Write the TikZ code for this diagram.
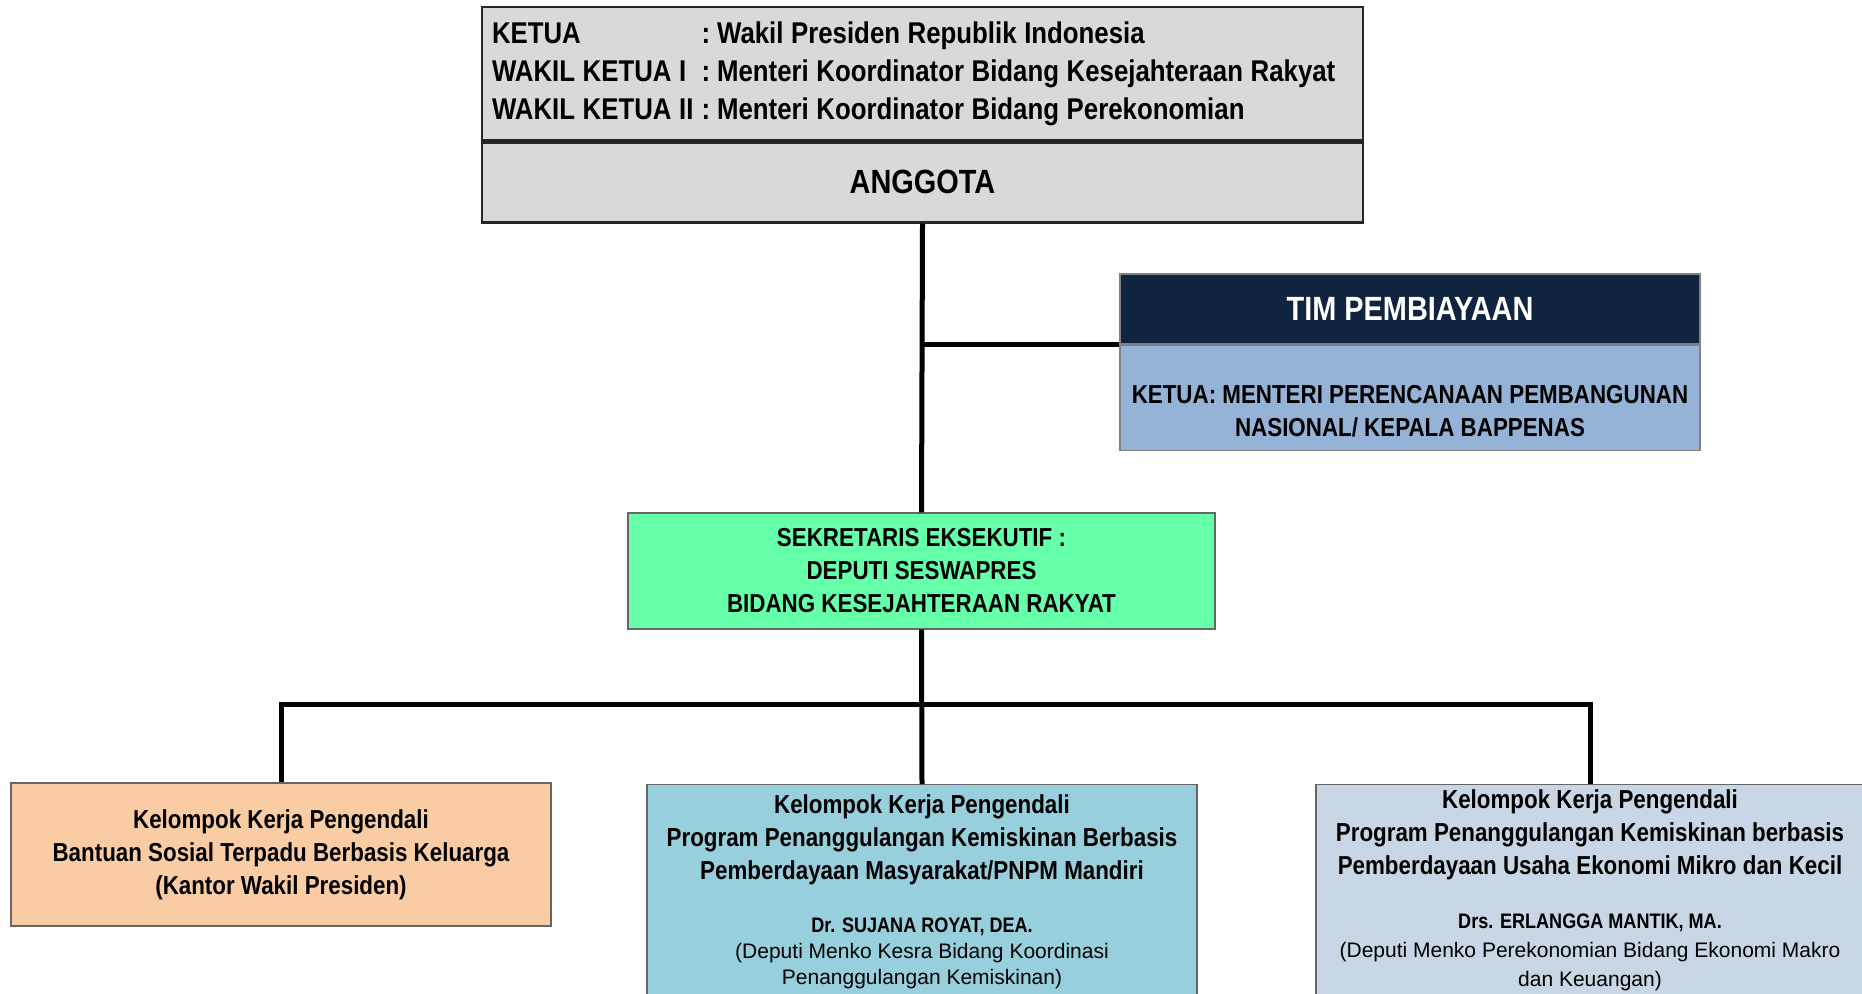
\documentclass[tikz,border=0pt]{standalone}
\usepackage{fontspec}
\setmainfont{Liberation Sans}[FakeStretch=0.86]
\newfontfamily\plainfont{Liberation Sans}
\usetikzlibrary{positioning}
\definecolor{kpgray}{RGB}{217,217,217}
\definecolor{timnavy}{RGB}{16,36,63}
\definecolor{timblue}{RGB}{149,179,215}
\definecolor{sekgreen}{RGB}{102,255,170}
\definecolor{peach}{RGB}{250,204,164}
\definecolor{aqua}{RGB}{151,207,221}
\definecolor{paleblue}{RGB}{200,214,230}

\begin{document}
\begin{tikzpicture}[
  font=\bfseries\fontsize{13}{16.5}\selectfont,
  box/.style={draw=black!60, line width=0.6pt, align=center, inner sep=2pt},
  lead/.style={box, draw=black!85, line width=1.2pt, fill=kpgray},
  head/.style={font=\bfseries\fontsize{16.8}{20}\selectfont},
  pokja/.style={box, minimum height=130pt, anchor=north},
  txt/.style={align=center, inner sep=0pt},
  detail/.style={txt, font=\plainfont\fontsize{10.5}{13}\selectfont},
  conn/.style={line width=2.5pt, draw=black},
]
\useasboundingbox (0pt,0pt) rectangle (931pt,-496.5pt);
\clip (0pt,0pt) rectangle (931pt,-496.5pt);

% ---- pimpinan ----
\node[lead, text width=430.5pt, inner xsep=5pt, minimum height=66.5pt,
      align=left, font=\bfseries\fontsize{15}{19}\selectfont]
  (pimpinan) at (461.25pt, -36.75pt)
  {\spaceskip=3.8pt\relax
   \begin{tabular}{@{}l@{\hspace{4pt}}l@{}}
   KETUA & :\hspace{3.5pt}Wakil Presiden Republik Indonesia\\
   WAKIL KETUA I & :\hspace{3.5pt}Menteri Koordinator Bidang Kesejahteraan Rakyat\\
   WAKIL KETUA II & :\hspace{3.5pt}Menteri Koordinator Bidang Perekonomian
   \end{tabular}};
\node[lead, head, minimum width=440.5pt, minimum height=40pt,
      below=0pt of pimpinan] (anggota) {ANGGOTA};

% ---- tim pembiayaan ----
\node[box, head, fill=timnavy, text=white, draw=black!50,
      minimum width=290pt, minimum height=35pt] (timhead)
  at (705pt, -154.5pt) {TIM PEMBIAYAAN};
\node[box, fill=timblue, draw=black!50, minimum width=290pt,
      minimum height=52.5pt, below=0pt of timhead] (timbody)
  {\mbox{}\\[6pt]KETUA: MENTERI PERENCANAAN PEMBANGUNAN\\NASIONAL/ KEPALA BAPPENAS};

% ---- sekretaris eksekutif ----
\node[box, fill=sekgreen, minimum width=293.5pt, minimum height=58pt]
  (sekretaris) at (460.75pt, -285.5pt)
  {SEKRETARIS EKSEKUTIF :\\DEPUTI SESWAPRES\\BIDANG KESEJAHTERAAN RAKYAT};

% ---- kelompok kerja ----
\node[box, fill=peach, minimum width=270pt, minimum height=71.5pt]
  (bansos) at (140.5pt, -427.25pt)
  {Kelompok Kerja Pengendali\\Bantuan Sosial Terpadu Berbasis Keluarga\\
   (Kantor Wakil Presiden)};

\node[pokja, fill=aqua, minimum width=275pt] (pnpm) at (461pt, -392pt) {};
\node[txt] (pnpmtitle) at (461pt, -419.7pt)
  {Kelompok Kerja Pengendali\\
   Program Penanggulangan Kemiskinan Berbasis\\
   Pemberdayaan Masyarakat/PNPM Mandiri};
\node[detail] (pnpmdetail) at (461pt, -476.8pt)
  {{\rmfamily\bfseries Dr. SUJANA ROYAT, DEA.}\\
   (Deputi Menko Kesra Bidang Koordinasi\\
   Penanggulangan Kemiskinan)};

\node[pokja, fill=paleblue, minimum width=274pt] (ukm) at (795pt, -392pt) {};
\node[txt] (ukmtitle) at (795pt, -417.4pt)
  {Kelompok Kerja Pengendali\\
   Program Penanggulangan Kemiskinan berbasis\\
   Pemberdayaan Usaha Ekonomi Mikro dan Kecil};
\node[detail, font=\plainfont\fontsize{10.5}{14.5}\selectfont] (ukmdetail)
  at (795pt, -476pt)
  {{\rmfamily\bfseries Drs. ERLANGGA MANTIK, MA.}\\
   (Deputi Menko Perekonomian Bidang Ekonomi Makro\\
   dan Keuangan)};

% ---- garis ----
\coordinate (bus) at (460.75pt, -352pt);
\draw[conn] (anggota.south) -- (sekretaris.north);
\draw[conn] (timbody.north west) -- (timbody.north west -| anggota.south);
\draw[conn] (sekretaris.south) -- (pnpm.north);
\draw[conn] (bansos.north) |- (bus) -| (ukm.north);
\end{tikzpicture}
\end{document}
